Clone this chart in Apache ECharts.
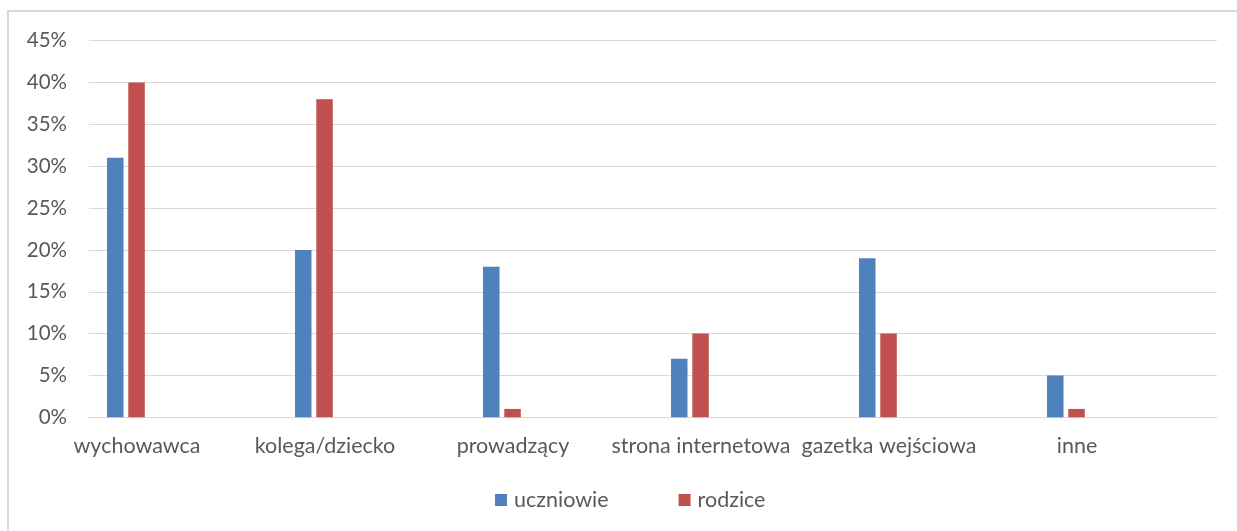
<!DOCTYPE html>
<html>
<head>
<meta charset="utf-8">
<script src="https://cdn.jsdelivr.net/npm/echarts@6/dist/echarts.min.js"></script>
<style>
html,body{margin:0;padding:0;background:#fff;}
#chart{width:1237px;height:531px;}
</style>
</head>
<body>
<div id="chart"></div>
<script>
const categories = ['wychowawca', 'kolega/dziecko', 'prowadzący', 'strona internetowa', 'gazetka wejściowa', 'inne'];
const uczniowie = [31, 20, 18, 7, 19, 5];
const rodzice = [40, 38, 1, 10, 10, 1];
const seriesNames = ['uczniowie', 'rodzice'];

const FONT = 'Lato';
const TXT = '#595959';
const GRID = '#d9d9d9';

const chart = echarts.init(document.getElementById('chart'), null, {renderer: 'canvas'});
chart.setOption({
  animation: false,
  backgroundColor: '#ffffff',
  textStyle: {fontFamily: FONT},
  graphic: [{
    type: 'rect',
    shape: {x: 8, y: 11, width: 1400, height: 700},
    style: {fill: 'none', stroke: '#d9d9d9', lineWidth: 2},
    silent: true, z: -10
  }],
  grid: {left: 89, right: 20, top: 40.7, bottom: 113.7, containLabel: false},
  legend: {
    data: seriesNames,
    left: 495, top: 489, padding: 0,
    itemWidth: 12, itemHeight: 12, itemGap: 70,
    icon: 'rect',
    textStyle: {color: TXT, fontSize: 21.5, fontFamily: FONT, padding: [0, 0, 0, 2]}
  },
  xAxis: {
    type: 'category',
    data: categories,
    axisLine: {show: true, lineStyle: {color: GRID, width: 1}},
    axisTick: {show: false},
    splitLine: {show: false},
    axisLabel: {
      interval: 0,
      margin: 18,
      color: TXT,
      fontSize: 21.5,
      fontFamily: FONT,
      formatter: v => '{a|' + v + '}',
      rich: {a: {color: TXT, fontSize: 21.5, fontFamily: FONT, padding: [0, 92, 0, 0]}}
    }
  },
  yAxis: {
    type: 'value',
    min: 0, max: 45, interval: 5,
    axisLine: {show: false},
    axisTick: {show: false},
    splitLine: {show: true, lineStyle: {color: GRID, width: 1}},
    axisLabel: {color: TXT, fontSize: 20.5, fontFamily: FONT, margin: 22, formatter: '{value}%'}
  },
  series: [
    {name: seriesNames[0], type: 'bar', data: uczniowie, barWidth: 16.5, barGap: '29%',
     itemStyle: {color: '#4f81bd'}},
    {name: seriesNames[1], type: 'bar', data: rodzice, barWidth: 16.5, barGap: '29%',
     itemStyle: {color: '#c0504d'}},
    {name: '_pad', type: 'bar', data: [], barWidth: 109.4, barGap: '29%', silent: true}
  ]
});
</script>
</body>
</html>
